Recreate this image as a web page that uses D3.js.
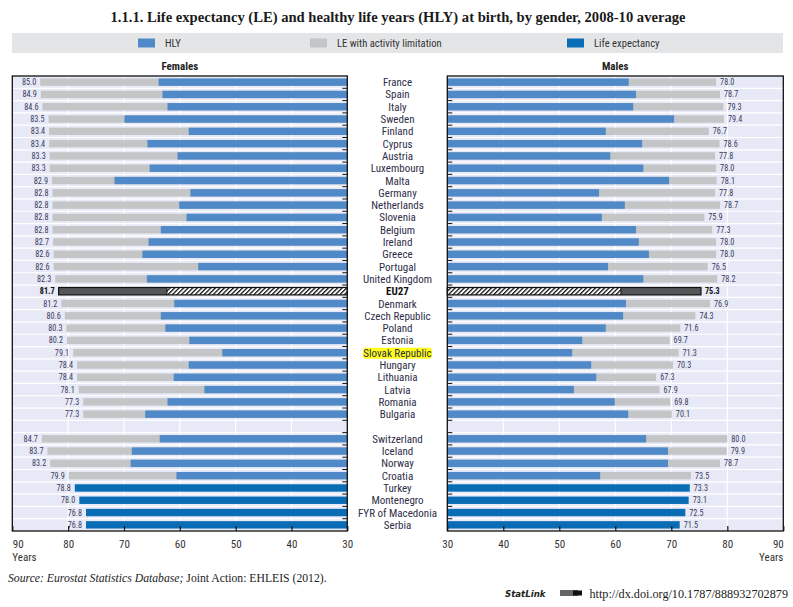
<!DOCTYPE html>
<html><head><meta charset="utf-8">
<script src="https://cdn.jsdelivr.net/npm/d3@7"></script>
<style>
body{margin:0;background:#fff;}
svg{display:block;}
.nar{font-family:"Liberation Sans Narrow","Arial Narrow","Roboto Condensed",Arial,sans-serif;}
</style></head>
<body><div id="chart"></div>
<script>
const countries = ["France","Spain","Italy","Sweden","Finland","Cyprus","Austria","Luxembourg","Malta","Germany","Netherlands","Slovenia","Belgium","Ireland","Greece","Portugal","United Kingdom","EU27","Denmark","Czech Republic","Poland","Estonia","Slovak Republic","Hungary","Lithuania","Latvia","Romania","Bulgaria","Switzerland","Iceland","Norway","Croatia","Turkey","Montenegro","FYR of Macedonia","Serbia"];
const femaleLE  = [85.0,84.9,84.6,83.5,83.4,83.4,83.3,83.3,82.9,82.8,82.8,82.8,82.8,82.7,82.6,82.6,82.3,81.7,81.2,80.6,80.3,80.2,79.1,78.4,78.4,78.1,77.3,77.3,84.7,83.7,83.2,79.9,78.8,78.0,76.8,76.8];
const femaleHLY = [63.8,63.1,62.2,69.9,58.4,65.8,60.4,65.4,71.7,58.1,60.1,58.8,63.4,65.6,66.7,56.7,65.9,62.3,61.0,63.4,62.6,58.3,52.4,58.4,61.1,55.6,62.2,66.2,63.6,68.6,68.8,60.6,null,null,null,null];
const maleLE    = [78.0,78.7,79.3,79.4,76.7,78.6,77.8,78.0,78.1,77.8,78.7,75.9,77.3,78.0,78.0,76.5,78.2,75.3,76.9,74.3,71.6,69.7,71.3,70.3,67.3,67.9,69.8,70.1,80.0,79.9,78.7,73.5,73.3,73.1,72.5,71.5];
const maleHLY   = [62.4,63.7,63.2,70.5,58.3,64.8,59.1,65.0,69.6,57.1,61.7,57.6,63.7,64.2,66.0,58.7,65.0,61.0,61.9,61.4,58.3,54.1,52.3,55.7,56.6,52.6,59.9,62.3,65.5,69.4,69.4,57.3,null,null,null,null];
const gapAfter = "Bulgaria";
const tickValues = [90,80,70,60,50,40,30];
const legendLabels = ["HLY","LE with activity limitation","Life expectancy"];
const titleText = "1.1.1.  Life expectancy (LE) and healthy life years (HLY) at birth, by gender, 2008-10 average";

const W = 793, H = 607;
const C = {hly:"#4f89c7", lim:"#c4c5c7", le:"#0a6cb4", bg:"#e7eaf6", eu:"#555657", txt:"#2e2e48", val:"#3a3a5e"};

const svg = d3.select("#chart").append("svg").attr("width",W).attr("height",H);
const defs = svg.append("defs");
const pat = defs.append("pattern").attr("id","hatch").attr("patternUnits","userSpaceOnUse")
  .attr("width",3.2).attr("height",3.2).attr("patternTransform","rotate(45)");
pat.append("rect").attr("width",3.2).attr("height",3.2).attr("fill","#fff");
pat.append("rect").attr("width",1.3).attr("height",3.2).attr("fill","#111");

// title
svg.append("text").attr("x",398).attr("y",22).attr("text-anchor","middle")
  .attr("font-family","'Liberation Serif','DejaVu Serif',serif").attr("font-weight","bold")
  .attr("font-size",14.6).attr("fill","#1a1a1a").text(titleText);

// legend band
svg.append("rect").attr("x",12).attr("y",33).attr("width",771).attr("height",20).attr("fill","#e4e5e7");
const legColors = [C.hly,C.lim,C.le];
const legX = [138,310,567];
legendLabels.forEach((l,i)=>{
  svg.append("rect").attr("x",legX[i]).attr("y",38.5).attr("width",17).attr("height",9).attr("fill",legColors[i]);
  svg.append("text").attr("class","nar").attr("x",legX[i]+27).attr("y",47).attr("font-size",10.6)
    .attr("fill","#333").text(l);
});

// slots
const slots = [];
countries.forEach(c=>{ slots.push(c); if(c===gapAfter) slots.push("__gap"); });
const y = d3.scaleBand().domain(slots).range([76,531]).padding(0);
const bw = y.bandwidth();
const barH = bw*0.6, barOff = bw*0.2;

const xF = d3.scaleLinear().domain([90,30]).range([12.3,347.3]);
const xM = d3.scaleLinear().domain([30,90]).range([447.3,783.3]);

function panel(x, LE, HLY, side, title){
  const [x0,x1] = x.range();
  const left = Math.min(x0,x1), right = Math.max(x0,x1);
  const g = svg.append("g");
  g.append("rect").attr("x",left).attr("y",76).attr("width",right-left).attr("height",455).attr("fill",C.bg);
  g.selectAll(".vg").data(tickValues.filter(t=>t!==30&&t!==90)).enter().append("line")
    .attr("x1",d=>x(d)).attr("x2",d=>x(d)).attr("y1",76).attr("y2",531).attr("stroke","#fff").attr("stroke-width",1.2);
  const bounds = slots.slice(1).map(s=>y(s));
  g.selectAll(".hg").data(bounds).enter().append("line")
    .attr("x1",left).attr("x2",right).attr("y1",d=>d).attr("y2",d=>d).attr("stroke","#fff").attr("stroke-width",1.2);
  countries.forEach((c,i)=>{
    const yy = y(c)+barOff;
    const base = x(30);
    if(c==="EU27"){
      g.append("rect").attr("x",Math.min(x(LE[i]),x(HLY[i]))).attr("y",yy).attr("width",Math.abs(x(LE[i])-x(HLY[i]))).attr("height",barH).attr("fill",C.eu);
      g.append("rect").attr("x",Math.min(base,x(HLY[i]))).attr("y",yy).attr("width",Math.abs(base-x(HLY[i]))).attr("height",barH).attr("fill","url(#hatch)");
      g.append("rect").attr("x",Math.min(base,x(LE[i]))).attr("y",yy).attr("width",Math.abs(base-x(LE[i]))).attr("height",barH).attr("fill","none").attr("stroke","#111").attr("stroke-width",1.2);
      g.append("line").attr("x1",x(HLY[i])).attr("x2",x(HLY[i])).attr("y1",yy).attr("y2",yy+barH).attr("stroke","#111").attr("stroke-width",1);
    } else if(HLY[i]==null){
      g.append("rect").attr("x",Math.min(base,x(LE[i]))).attr("y",yy).attr("width",Math.abs(base-x(LE[i]))).attr("height",barH).attr("fill",C.le);
    } else {
      g.append("rect").attr("x",Math.min(base,x(LE[i]))).attr("y",yy).attr("width",Math.abs(base-x(LE[i]))).attr("height",barH).attr("fill",C.lim);
      g.append("rect").attr("x",Math.min(base,x(HLY[i]))).attr("y",yy).attr("width",Math.abs(base-x(HLY[i]))).attr("height",barH).attr("fill",C.hly);
    }
    const isEU = c==="EU27";
    g.append("text").attr("class","nar")
      .attr("x", side==="L" ? x(LE[i])-4 : x(LE[i])+4)
      .attr("y", y(c)+bw/2+3)
      .attr("text-anchor", side==="L" ? "end":"start")
      .attr("font-size",8.2).attr("font-weight",isEU?"bold":"normal")
      .attr("fill",isEU?"#111":C.val).text(d3.format(".1f")(LE[i]));
  });
  g.append("rect").attr("x",left).attr("y",76).attr("width",right-left).attr("height",455)
    .attr("fill","none").attr("stroke","#111").attr("stroke-width",1.3);
  const tx = side==="L" ? right : left;
  const dir = side==="L" ? -1 : 1;
  g.selectAll(".yt").data(bounds).enter().append("line")
    .attr("x1",tx).attr("x2",tx+dir*5).attr("y1",d=>d).attr("y2",d=>d).attr("stroke","#111").attr("stroke-width",1);
  const ax = d3.axisBottom(x).tickValues(tickValues).tickSize(-5).tickPadding(9).tickFormat(d3.format("d"));
  const axg = g.append("g").attr("transform","translate(0,531)").call(ax);
  axg.select(".domain").remove();
  axg.selectAll(".tick line").attr("stroke","#111").attr("stroke-width",1.2);
  axg.selectAll(".tick text").attr("class","nar").attr("font-size",11).attr("fill","#333")
    .attr("text-anchor", d=> d===90 ? (side==="L"?"start":"end") : "middle");
  g.append("text").attr("class","nar").attr("x", side==="L"?left:right).attr("y",561)
    .attr("text-anchor", side==="L"?"start":"end").attr("font-size",11).attr("fill","#333").text("Years");
  g.append("text").attr("class","nar").attr("x",(left+right)/2).attr("y",70).attr("text-anchor","middle")
    .attr("font-size",11).attr("font-weight","bold").attr("fill","#222").text(title);
}
panel(xF, femaleLE, femaleHLY, "L", "Females");
panel(xM, maleLE, maleHLY, "R", "Males");

const cl = svg.append("g");
countries.forEach(c=>{
  const cy = y(c)+bw/2+4;
  if(c==="Slovak Republic"){
    cl.append("rect").attr("x",363).attr("y",y(c)+1.2).attr("width",69).attr("height",bw-1.4).attr("rx",3).attr("fill","#ffff1a");
  }
  cl.append("text").attr("class","nar").attr("x",397.5).attr("y",cy).attr("text-anchor","middle")
    .attr("font-size",11).attr("font-weight",c==="EU27"?"bold":"normal")
    .attr("fill",c==="EU27"?"#111":C.txt).text(c);
});

const src = svg.append("text").attr("x",8).attr("y",582).attr("font-family","'Liberation Serif','DejaVu Serif',serif")
  .attr("font-size",11.7).attr("fill","#222");
src.append("tspan").attr("font-style","italic").text("Source:  Eurostat Statistics Database; ");
src.append("tspan").text("Joint Action: EHLEIS (2012).");

svg.append("text").attr("x",505).attr("y",597).attr("font-family","'DejaVu Sans',sans-serif").attr("font-style","italic")
  .attr("font-weight","bold").attr("font-size",8.6).attr("fill","#222").text("StatLink");
const lg = svg.append("g").attr("transform","translate(560,590)");
lg.append("rect").attr("x",0).attr("y",0).attr("width",18).attr("height",6).attr("fill","#666");
lg.append("rect").attr("x",13).attr("y",0.5).attr("width",9).attr("height",5).attr("fill","#111");
svg.append("text").attr("x",788).attr("y",598).attr("text-anchor","end").attr("font-family","'Liberation Serif','DejaVu Serif',serif")
  .attr("font-size",12.2).attr("fill","#222").text("http://dx.doi.org/10.1787/888932702879");
</script></body></html>
